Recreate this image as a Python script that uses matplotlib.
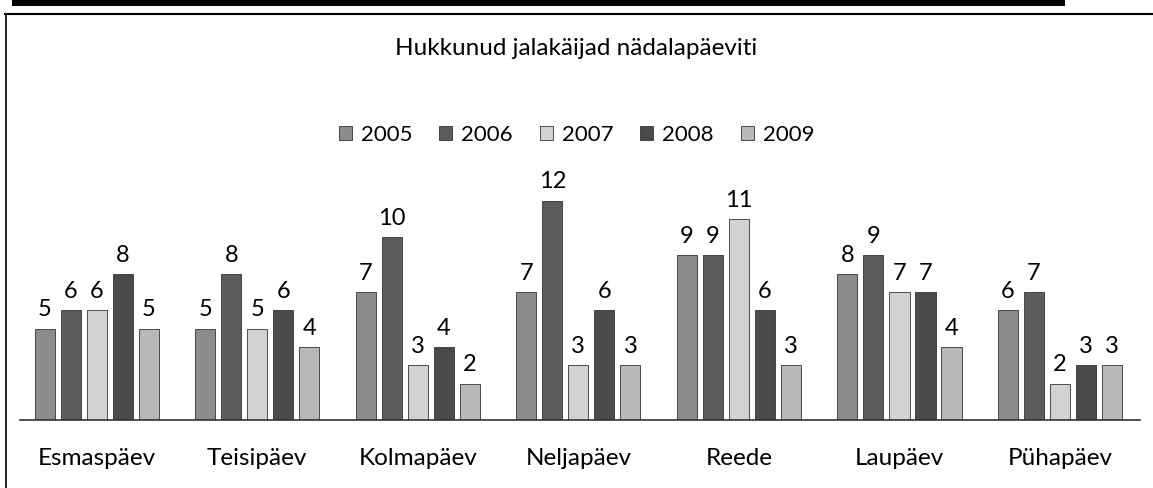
import matplotlib.pyplot as plt
import numpy as np

plt.rcParams['font.family'] = ['Lato', 'DejaVu Sans']

# data
days = ['Esmaspäev', 'Teisipäev', 'Kolmapäev', 'Neljapäev', 'Reede', 'Laupäev', 'Pühapäev']
years = ['2005', '2006', '2007', '2008', '2009']
v2005 = [5, 5, 7, 7, 9, 8, 6]
v2006 = [6, 8, 10, 12, 9, 9, 7]
v2007 = [6, 5, 3, 3, 11, 7, 2]
v2008 = [8, 6, 4, 6, 6, 7, 3]
v2009 = [5, 4, 2, 3, 3, 4, 3]
series = [v2005, v2006, v2007, v2008, v2009]
colors = ['#8c8c8c', '#5c5c5c', '#d2d2d2', '#4a4a4a', '#b8b8b8']

fig = plt.figure(figsize=(11.53, 4.88), dpi=100)
ax = fig.add_axes([0.017, 0.139, 0.972, 0.525])

x = np.arange(len(days))
w = 0.125
step = 0.162
for i, (vals, c, yr) in enumerate(zip(series, colors, years)):
    pos = x + (i - 2) * step
    ax.bar(pos, vals, w, color=c, edgecolor='#333333', linewidth=0.6, label=yr)
    for p, v in zip(pos, vals):
        ax.text(p, v + 0.45, str(v), ha='center', va='bottom', fontsize=17)

ax.set_xlim(-0.48, 6.5)
ax.set_ylim(0, 14)
ax.set_yticks([])
ax.set_xticks(x)
ax.set_xticklabels(days, fontsize=17.5)
ax.tick_params(axis='x', length=0, pad=20)
for s in ['top', 'right', 'left']:
    ax.spines[s].set_visible(False)
ax.spines['bottom'].set_color('#333333')
ax.spines['bottom'].set_linewidth(1.2)

fig.text(0.5, 0.9, 'Hukkunud jalakäijad nädalapäeviti', ha='center', va='center', fontsize=17.5)
fig.legend(loc='center', bbox_to_anchor=(0.5, 0.724), ncol=5, frameon=False,
           fontsize=16, handlelength=0.6, handleheight=0.6, handletextpad=0.4,
           columnspacing=1.2)

# scanned page frame
fig.add_artist(plt.Line2D([0.013, 0.92], [0.995, 0.995], color='black', linewidth=5))
fig.add_artist(plt.Line2D([0.004, 1.0], [0.971, 0.971], color='black', linewidth=1.5))
fig.add_artist(plt.Line2D([0.005, 0.005], [0.0, 0.971], color='black', linewidth=1.2))

fig.savefig('out.png', dpi=100, facecolor='white')
